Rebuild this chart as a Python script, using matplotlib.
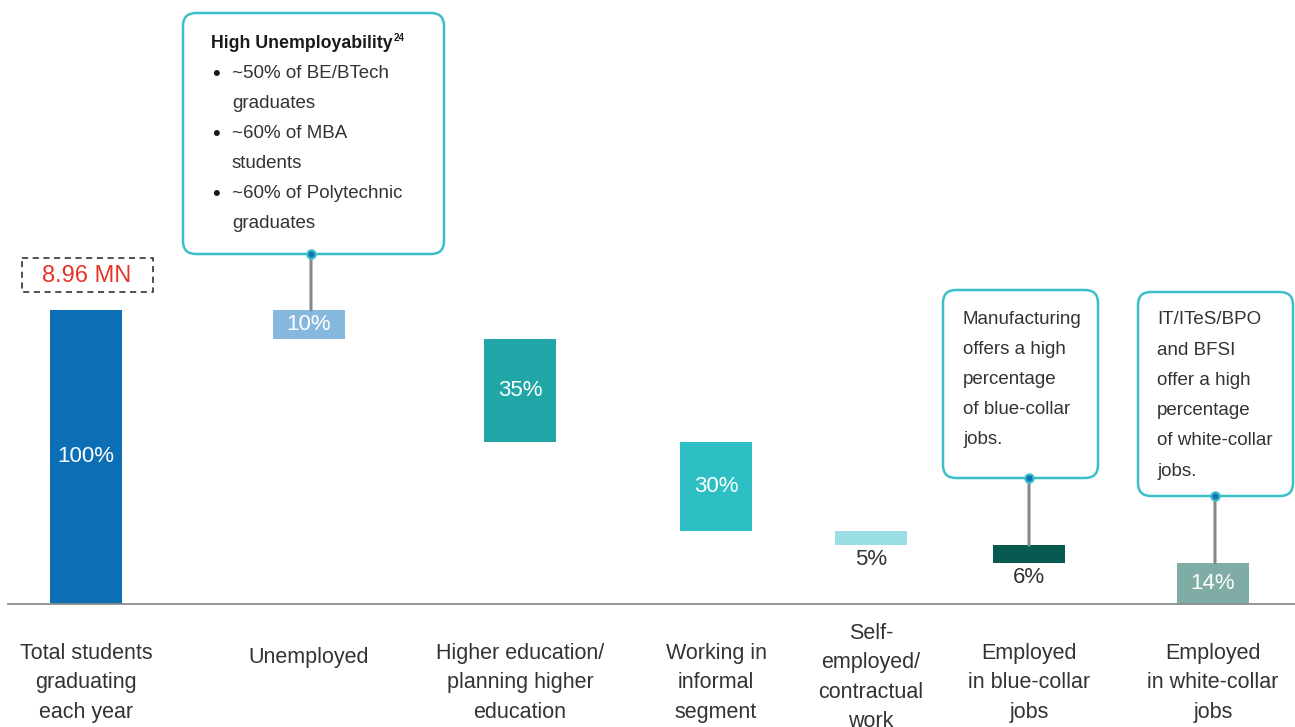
import matplotlib.pyplot as plt
from matplotlib.patches import FancyBboxPatch, Rectangle

plt.rcParams['font.family'] = ['Liberation Sans', 'DejaVu Sans']

categories = ['Total students\ngraduating\neach year', 'Unemployed',
              'Higher education/\nplanning higher\neducation',
              'Working in\ninformal\nsegment',
              'Self-\nemployed/\ncontractual\nwork',
              'Employed\nin blue-collar\njobs',
              'Employed\nin white-collar\njobs']
shares = [100, 10, 35, 30, 5, 6, 14]
share_labels = ['100%', '10%', '35%', '30%', '5%', '6%', '14%']
total_label = '8.96 MN'

bullet_title = 'High Unemployability'
bullet_note = '24'
bullet_lines = [('~50% of BE/BTech', 'graduates'), ('~60% of MBA', 'students'),
                ('~60% of Polytechnic', 'graduates')]
blue_note = ['Manufacturing', 'offers a high', 'percentage', 'of blue-collar', 'jobs.']
white_note = ['IT/ITeS/BPO', 'and BFSI', 'offer a high', 'percentage', 'of white-collar', 'jobs.']

colors = ['#0c6fb5', '#86b8dd', '#20a6a6', '#2ebfc4', '#9adfe4', '#075a50', '#80aca6']
label_inside = [True, True, True, True, False, False, True]

# layout in pixels
W, H = 1295, 727
x_pos = [86, 309, 520, 716, 871, 1029, 1213]
base_px = 604
px_per_pct = 2.94

fig = plt.figure(figsize=(W / 100, H / 100), dpi=100)
ax = fig.add_axes([0, 0, 1, 1])
ax.set_xlim(0, W)
ax.set_ylim(-(H - base_px) / px_per_pct, base_px / px_per_pct)
ax.axis('off')

lay = fig.add_axes([0, 0, 1, 1])
lay.set_xlim(0, W)
lay.set_ylim(H, 0)
lay.axis('off')
lay.patch.set_alpha(0)

# waterfall bars
bottoms = []
level = shares[0]
for i, v in enumerate(shares):
    if i == 0:
        b = 0
    else:
        level -= v
        b = level
    bottoms.append(b)

bars = ax.bar(x_pos, shares, width=72, bottom=bottoms, color=colors, zorder=2)
for i, bar in enumerate(bars):
    cx = bar.get_x() + bar.get_width() / 2
    if label_inside[i]:
        ax.text(cx, bottoms[i] + shares[i] / 2, share_labels[i], ha='center', va='center',
                color='white', fontsize=16, zorder=3)
    else:
        ax.text(cx, bottoms[i] - 5, share_labels[i], ha='center', va='center',
                color='#333333', fontsize=16, zorder=3)

ax.plot([8, W], [0, 0], color='#8c8c8c', lw=1.3, zorder=3)

# category labels
for i, cat in enumerate(categories):
    top = 623 if cat.count('\n') == 3 else 643
    if cat.count('\n') == 0:
        top = 647
    lay.text(x_pos[i], top, cat, ha='center', va='top', fontsize=15.5,
             color='#333333', linespacing=1.52)

# total value box
lay.add_patch(Rectangle((22, 258), 131, 34, fill=False, ec='#222222', lw=1.1, ls=(0, (4, 3))))
lay.text(87, 276, total_label, ha='center', va='center', color='#e8332a', fontsize=17)

# callout boxes
def callout(x0, y0, w, h, dot_x, bar_idx):
    lay.add_patch(FancyBboxPatch((x0, y0), w, h, boxstyle='round,pad=0,rounding_size=13',
                                 fc='white', ec='#3bbfc8', lw=1.8, zorder=4))
    top = bottoms[bar_idx] + shares[bar_idx]
    ax.annotate('', xy=(dot_x, top), xytext=(dot_x, y0 + h), textcoords=lay.transData,
                arrowprops=dict(arrowstyle='-', color='#888888', lw=2.2,
                                shrinkA=0, shrinkB=0), zorder=3)
    lay.plot(dot_x, y0 + h, 'o', ms=6, mfc='#1273b8', mec='#3bbfc8', mew=1.5, zorder=5)

callout(183, 13, 261, 241, 311, 1)
callout(943, 290, 155, 188, 1029, 5)
callout(1138, 292, 155, 204, 1215, 6)

lay.text(211, 44, bullet_title, fontweight='bold', fontsize=12.8,
         color='#1a1a1a', va='center', zorder=6)
lay.text(394, 38, bullet_note, fontweight='bold', fontsize=7, color='#1a1a1a',
         va='center', zorder=6)
for k, (l1, l2) in enumerate(bullet_lines):
    y = 74 + 60 * k
    lay.text(216, y, '\u2022', ha='center', va='center', fontsize=16, color='#1a1a1a', zorder=6)
    lay.text(232, y, l1, va='center', fontsize=13.5, color='#333333', zorder=6)
    lay.text(232, y + 30, l2, va='center', fontsize=13.5, color='#333333', zorder=6)

for k, line in enumerate(blue_note):
    lay.text(963, 320 + 30 * k, line, va='center', fontsize=13.5, color='#333333', zorder=6)
for k, line in enumerate(white_note):
    lay.text(1157, 320 + 30.2 * k, line, va='center', fontsize=13.5, color='#333333', zorder=6)

fig.savefig('out.png', dpi=100)
